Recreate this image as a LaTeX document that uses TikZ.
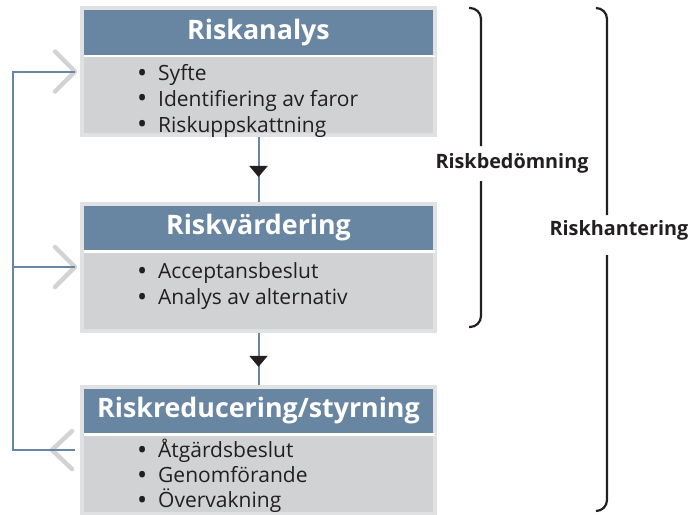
\documentclass[tikz,border=0pt]{standalone}
\usepackage{fontspec}
\setmainfont{Open Sans}
\usepackage{tikz}
\usetikzlibrary{arrows.meta, positioning, calc, decorations.markings}
\definecolor{hdrblue}{RGB}{104, 133, 161}
\definecolor{bodygray}{RGB}{209, 210, 212}
\definecolor{framegray}{RGB}{224, 225, 226}
\definecolor{chevgray}{RGB}{210, 211, 213}
\definecolor{inkblack}{RGB}{35, 31, 32}
\newcommand{\bul}{\makebox[21pt][l]{\raisebox{-1.5pt}{\fontsize{27}{26}\selectfont\textbullet}}}

\begin{document}
\begin{tikzpicture}[
        x=1pt, y=-1pt,
        stepbox/.style={draw=framegray, fill=bodygray, line width=4pt,
                        minimum width=353pt, minimum height=127pt, inner sep=0pt},
        hdr/.style={fill=hdrblue, minimum width=349pt, minimum height=45pt,
                    inner sep=0pt, outer sep=0pt, text=white,
                    font=\bfseries\fontsize{26.8}{30}\selectfont},
        items/.style={align=left, inner sep=0pt, text=inkblack,
                      font=\fontsize{21}{25.7}\selectfont},
        flow/.style={hdrblue, line width=2pt,
                     postaction={decorate}},
        fb/.style={hdrblue, line width=2pt},
        chev/.style={chevgray, line width=4.5pt, line cap=round, line join=round},
        brace/.style={inkblack, line width=2.2pt, rounded corners=11pt},
        bracelbl/.style={text=inkblack, inner sep=0pt,
                         font=\bfseries\fontsize{19.8}{24}\selectfont},
      ]
        \useasboundingbox (0,0) rectangle (690,514);

        % the three steps (list nodes sit on their last baseline)
        \node[stepbox] (rk1) at (258.5,71.5) {};
        \node[hdr, anchor=north] (rk1h) at ([yshift=-4pt]rk1.north) {Riskanalys};
        \node[items, anchor=base west] (rk1i) at (137,132)
          {\bul Syfte\\\bul Identifiering av faror\\\bul Riskuppskattning};

        \node[stepbox] (rk2) at (258.5,267) {};
        \node[hdr, anchor=north] (rk2h) at ([yshift=-4pt]rk2.north) {Riskvärdering};
        \node[items, anchor=base west] (rk2i) at (137,304.5)
          {\bul Acceptansbeslut\\\bul Analys av alternativ};

        \node[stepbox] (rk3) at (258.5,450) {};
        \node[hdr, anchor=north] (rk3h) at ([yshift=-4pt]rk3.north) {Riskreducering/styrning};
        \node[items, anchor=base west, font=\fontsize{21}{25}\selectfont] (rk3i) at (137,507.5)
          {\bul Åtgärdsbeslut\\\bul Genomförande\\\bul Övervakning};

        \draw[white, line width=2.5pt] ([yshift=-1.2pt]rk1h.south west) -- ([yshift=-1.2pt, xshift=2pt]rk1h.south east);
        \draw[white, line width=2.5pt] ([yshift=-1.2pt]rk2h.south west) -- ([yshift=-1.2pt, xshift=2pt]rk2h.south east);
        \draw[white, line width=2.5pt] ([yshift=-1.2pt]rk3h.south west) -- ([yshift=-1.2pt, xshift=2pt]rk3h.south east);

        % forward flow
        \draw[flow, decoration={markings, mark=at position 0.62 with
          {\arrow[inkblack]{Triangle[width=18pt, length=11pt]}}}] (rk1.south) -- (rk2.north);
        \draw[flow, decoration={markings, mark=at position 0.66 with
          {\arrow[inkblack]{Triangle[width=18pt, length=11pt]}}}] (rk2.south) -- (rk3.north);

        % feedback loop
        \coordinate (fbx) at (13,0);
        \draw[chev] ([xshift=-25pt, yshift=20pt]rk1.west) -- ([xshift=-5pt]rk1.west)
          -- ([xshift=-25pt, yshift=-20pt]rk1.west);
        \draw[chev] ([xshift=-25pt, yshift=20pt]rk2.west) -- ([xshift=-5pt]rk2.west)
          -- ([xshift=-25pt, yshift=-20pt]rk2.west);
        \draw[chev] ([xshift=-8pt, yshift=19pt]rk3.west) -- ([xshift=-28pt]rk3.west)
          -- ([xshift=-8pt, yshift=-19pt]rk3.west);
        \draw[fb] ([xshift=-5pt]rk3.west) -- (rk3.west -| fbx) -- (rk1.west -| fbx)
          -- ([xshift=-5pt]rk1.west);
        \draw[fb] (rk2.west -| fbx) -- ([xshift=-5pt]rk2.west);

        % brackets
        \node[bracelbl] (rbed) at (512,163) {Riskbedömning};
        \node[bracelbl] (rhan) at (619,230) {Riskhantering};
        \draw[brace] (469,8) -| (481,146);
        \draw[brace] (481,181) |- (469,327);
        \draw[brace] (596,8) -| (607,215);
        \draw[brace] (607,255) |- (596,511);
      \end{tikzpicture}
\end{document}
